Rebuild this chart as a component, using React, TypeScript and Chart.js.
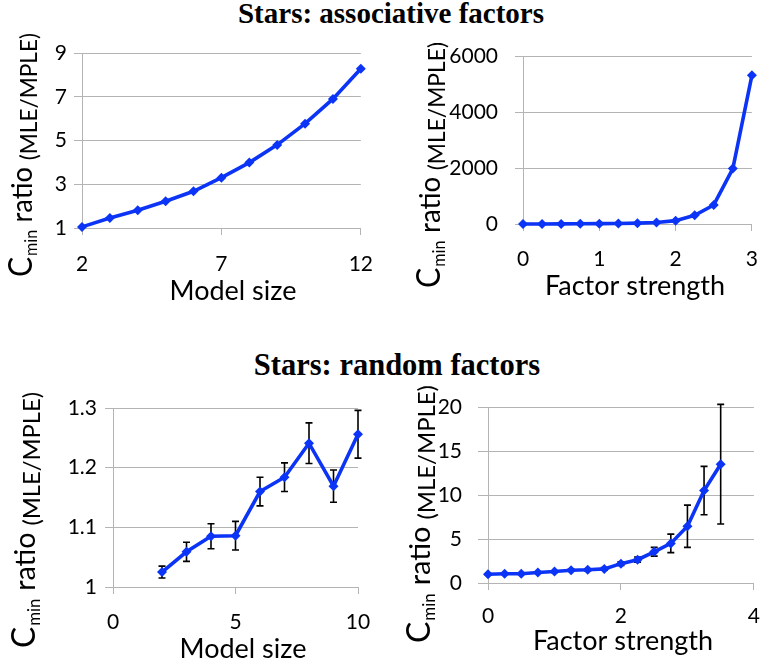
import React, { useEffect, useRef } from 'react';
import { Chart, registerables } from 'chart.js';

Chart.register(...registerables);

// ---------- data ----------
const assocSizeX = [2, 3, 4, 5, 6, 7, 8, 9, 10, 11, 12];
const assocSizeY = [1.05, 1.46, 1.81, 2.22, 2.68, 3.3, 3.99, 4.8, 5.77, 6.9, 8.28];

const assocStrengthX = [0, 0.25, 0.5, 0.75, 1, 1.25, 1.5, 1.75, 2, 2.25, 2.5, 2.75, 3];
const assocStrengthY = [1, 2, 4, 7, 12, 20, 30, 55, 120, 310, 680, 1980, 5310];

const randomSizeX = [2, 3, 4, 5, 6, 7, 8, 9, 10];
const randomSizeY = [1.025, 1.059, 1.085, 1.086, 1.16, 1.184, 1.241, 1.169, 1.256];
const randomSizeErr = [0.01, 0.016, 0.021, 0.024, 0.024, 0.024, 0.034, 0.027, 0.04];

const randomStrengthX = [0, 0.25, 0.5, 0.75, 1, 1.25, 1.5, 1.75, 2, 2.25, 2.5, 2.75, 3, 3.25, 3.5];
const randomStrengthY = [1.0, 1.05, 1.05, 1.2, 1.3, 1.45, 1.5, 1.6, 2.2, 2.65, 3.55, 4.5, 6.45, 10.5, 13.5];
const randomStrengthErr = [0.05, 0.05, 0.05, 0.08, 0.1, 0.1, 0.12, 0.15, 0.2, 0.3, 0.5, 1.05, 2.4, 2.75, 6.8];

const titleTop = 'Stars: associative factors';
const titleBottom = 'Stars: random factors';
const xLabelSize = 'Model size';
const xLabelStrength = 'Factor strength';

// ---------- style ----------
const SANS = 'Lato, "Open Sans", sans-serif';
const LINE = '#0b34f6';
const GRID = '#b4b4b4';

const errorBarPlugin = {
  id: 'errorBars',
  beforeDatasetsDraw(chart: any, _args: any, opts: any) {
    const errs: number[] | undefined = opts && opts.errors;
    if (!errs) return;
    const { ctx } = chart;
    const xs = chart.scales.x;
    const ys = chart.scales.y;
    const data = chart.data.datasets[0].data as { x: number; y: number }[];
    ctx.save();
    ctx.strokeStyle = '#000';
    ctx.lineWidth = 1.6;
    data.forEach((d, i) => {
      const e = errs[i];
      const px = xs.getPixelForValue(d.x);
      const top = ys.getPixelForValue(d.y + e);
      const bot = ys.getPixelForValue(d.y - e);
      ctx.beginPath();
      ctx.moveTo(px, top);
      ctx.lineTo(px, bot);
      ctx.moveTo(px - 3.5, top);
      ctx.lineTo(px + 3.5, top);
      ctx.moveTo(px - 3.5, bot);
      ctx.lineTo(px + 3.5, bot);
      ctx.stroke();
    });
    ctx.restore();
  },
};

// y-title pieces: text, font size, baseline shift, gap after
const yTitleParts: [string, number, number, number][] = [
  ['C', 32, 0, 1],
  ['min', 17, 5, 8],
  ['ratio', 29, 0, 7],
  ['(MLE/MPLE)', 24, 5, 0],
];

const axisTitlePlugin = {
  id: 'axisTitles',
  afterDraw(chart: any, _args: any, opts: any) {
    const { ctx } = chart;
    ctx.save();
    ctx.fillStyle = '#000';
    ctx.textBaseline = 'alphabetic';
    // x title
    ctx.font = `27px ${SANS}`;
    ctx.textAlign = 'center';
    ctx.fillText(opts.xText, opts.xPos[0], opts.xPos[1]);
    // y title (rotated, mixed sizes), condensed to target length
    ctx.textAlign = 'left';
    let natural = 0;
    yTitleParts.forEach(([t, s, , g]) => {
      ctx.font = `${s}px ${SANS}`;
      natural += ctx.measureText(t).width + g;
    });
    const sx = opts.yLen / natural;
    ctx.translate(opts.yPos[0], opts.yPos[1]);
    ctx.rotate(-Math.PI / 2);
    ctx.scale(sx, 1);
    let p = 0;
    yTitleParts.forEach(([t, s, dy, g]) => {
      ctx.font = `${s}px ${SANS}`;
      ctx.fillText(t, p, dy);
      p += ctx.measureText(t).width + g;
    });
    ctx.restore();
  },
};

type Panel = {
  left: number; top: number; w: number; h: number;
  area: { left: number; right: number; top: number; bottom: number };
  xMin: number; xMax: number; xStep: number;
  yMin: number; yMax: number; yStep: number;
  yTickLen: number; yTickPad: number; xTickPad: number;
  xs: number[]; ys: number[]; errs?: number[];
  xText: string; xPos: [number, number]; yPos: [number, number]; yLen: number;
};

const fmt = (v: number) => String(Math.round(v * 1000) / 1000);

function ChartPanel({ p }: { p: Panel }) {
  const ref = useRef<HTMLCanvasElement>(null);
  useEffect(() => {
    if (!ref.current) return;
    const yWidth = p.area.left - p.left;
    const xHeight = p.top + p.h - p.area.bottom;
    const chart = new Chart(ref.current, {
      type: 'line',
      data: {
        datasets: [
          {
            data: p.xs.map((x, i) => ({ x, y: p.ys[i] })),
            borderColor: LINE,
            backgroundColor: LINE,
            borderWidth: 3.6,
            pointStyle: 'rectRot',
            pointRadius: 5,
            pointBorderWidth: 0,
            tension: 0,
            clip: false,
          } as any,
        ],
      },
      plugins: [errorBarPlugin, axisTitlePlugin],
      options: {
        animation: false,
        responsive: false,
        layout: {
          padding: {
            top: p.area.top - p.top,
            left: 0,
            right: p.left + p.w - p.area.right,
            bottom: 0,
          },
        },
        plugins: {
          legend: { display: false },
          tooltip: { enabled: false },
          errorBars: { errors: p.errs },
          axisTitles: {
            xText: p.xText,
            xPos: [p.xPos[0] - p.left, p.xPos[1] - p.top],
            yPos: [p.yPos[0] - p.left, p.yPos[1] - p.top],
            yLen: p.yLen,
          },
        } as any,
        scales: {
          x: {
            type: 'linear',
            min: p.xMin,
            max: p.xMax,
            ticks: {
              stepSize: p.xStep,
              color: '#000',
              font: { family: SANS, size: 21 },
              padding: p.xTickPad,
              maxRotation: 0,
              autoSkip: false,
              callback: (v: any) => fmt(Number(v)),
            },
            grid: { drawOnChartArea: false, drawTicks: true, tickLength: 7, color: GRID, lineWidth: 1 },
            border: { color: GRID, width: 1 },
            afterFit: (s: any) => { s.height = xHeight; },
          },
          y: {
            type: 'linear',
            min: p.yMin,
            max: p.yMax,
            ticks: {
              stepSize: p.yStep,
              color: '#000',
              font: { family: SANS, size: 21 },
              padding: p.yTickPad,
              autoSkip: false,
              callback: (v: any) => fmt(Number(v)),
            },
            grid: { drawOnChartArea: true, drawTicks: true, tickLength: p.yTickLen, color: GRID, lineWidth: 1 },
            border: { color: GRID, width: 1 },
            afterFit: (s: any) => { s.width = yWidth; },
          },
        },
      } as any,
    });
    return () => chart.destroy();
  }, [p]);
  return (
    <canvas
      ref={ref}
      width={p.w}
      height={p.h}
      style={{ position: 'absolute', left: p.left, top: p.top, width: p.w, height: p.h }}
    />
  );
}

// all positions below are page coordinates
const panels: Panel[] = [
  {
    left: 0, top: 0, w: 390, h: 320,
    area: { left: 82, right: 361, top: 53, bottom: 228 },
    xMin: 2, xMax: 12, xStep: 5, yMin: 1, yMax: 9, yStep: 2,
    yTickLen: 8, yTickPad: 7, xTickPad: 17,
    xs: assocSizeX, ys: assocSizeY,
    xText: xLabelSize, xPos: [233, 300], yPos: [32, 277], yLen: 244,
  },
  {
    left: 390, top: 0, w: 384, h: 320,
    area: { left: 523, right: 754, top: 56, bottom: 224 },
    xMin: 0, xMax: 3, xStep: 1, yMin: 0, yMax: 6000, yStep: 2000,
    yTickLen: 8, yTickPad: 17, xTickPad: 16,
    xs: assocStrengthX, ys: assocStrengthY,
    xText: xLabelStrength, xPos: [635, 295], yPos: [440, 288], yLen: 246,
  },
  {
    left: 0, top: 330, w: 390, h: 334,
    area: { left: 113, right: 358, top: 408, bottom: 587 },
    xMin: 0, xMax: 10, xStep: 5, yMin: 1, yMax: 1.3, yStep: 0.1,
    yTickLen: 8, yTickPad: 8, xTickPad: 16,
    xs: randomSizeX, ys: randomSizeY, errs: randomSizeErr,
    xText: xLabelSize, xPos: [243, 658], yPos: [35, 648], yLen: 256,
  },
  {
    left: 390, top: 330, w: 384, h: 334,
    area: { left: 488, right: 766, top: 407, bottom: 583 },
    xMin: 0, xMax: 4, xStep: 2, yMin: 0, yMax: 20, yStep: 5,
    yTickLen: 10, yTickPad: 16, xTickPad: 14,
    xs: randomStrengthX, ys: randomStrengthY, errs: randomStrengthErr,
    xText: xLabelStrength, xPos: [623, 650], yPos: [430, 643], yLen: 258,
  },
];

const titleStyle: React.CSSProperties = {
  position: 'absolute',
  left: 0,
  textAlign: 'center',
  fontFamily: '"Liberation Serif", "Times New Roman", serif',
  fontWeight: 'bold',
  fontSize: 29,
  lineHeight: '29px',
  whiteSpace: 'nowrap',
  color: '#000',
};

export default function App() {
  return (
    <div style={{ position: 'absolute', left: 0, top: 0, width: 774, height: 664, background: '#fff', overflow: 'hidden' }}>
      <div style={{ ...titleStyle, top: -1, width: 782 }}>{titleTop}</div>
      <div style={{ ...titleStyle, top: 351, width: 794, fontSize: 30.5 }}>{titleBottom}</div>
      {panels.map((p, i) => (
        <ChartPanel key={i} p={p} />
      ))}
    </div>
  );
}
